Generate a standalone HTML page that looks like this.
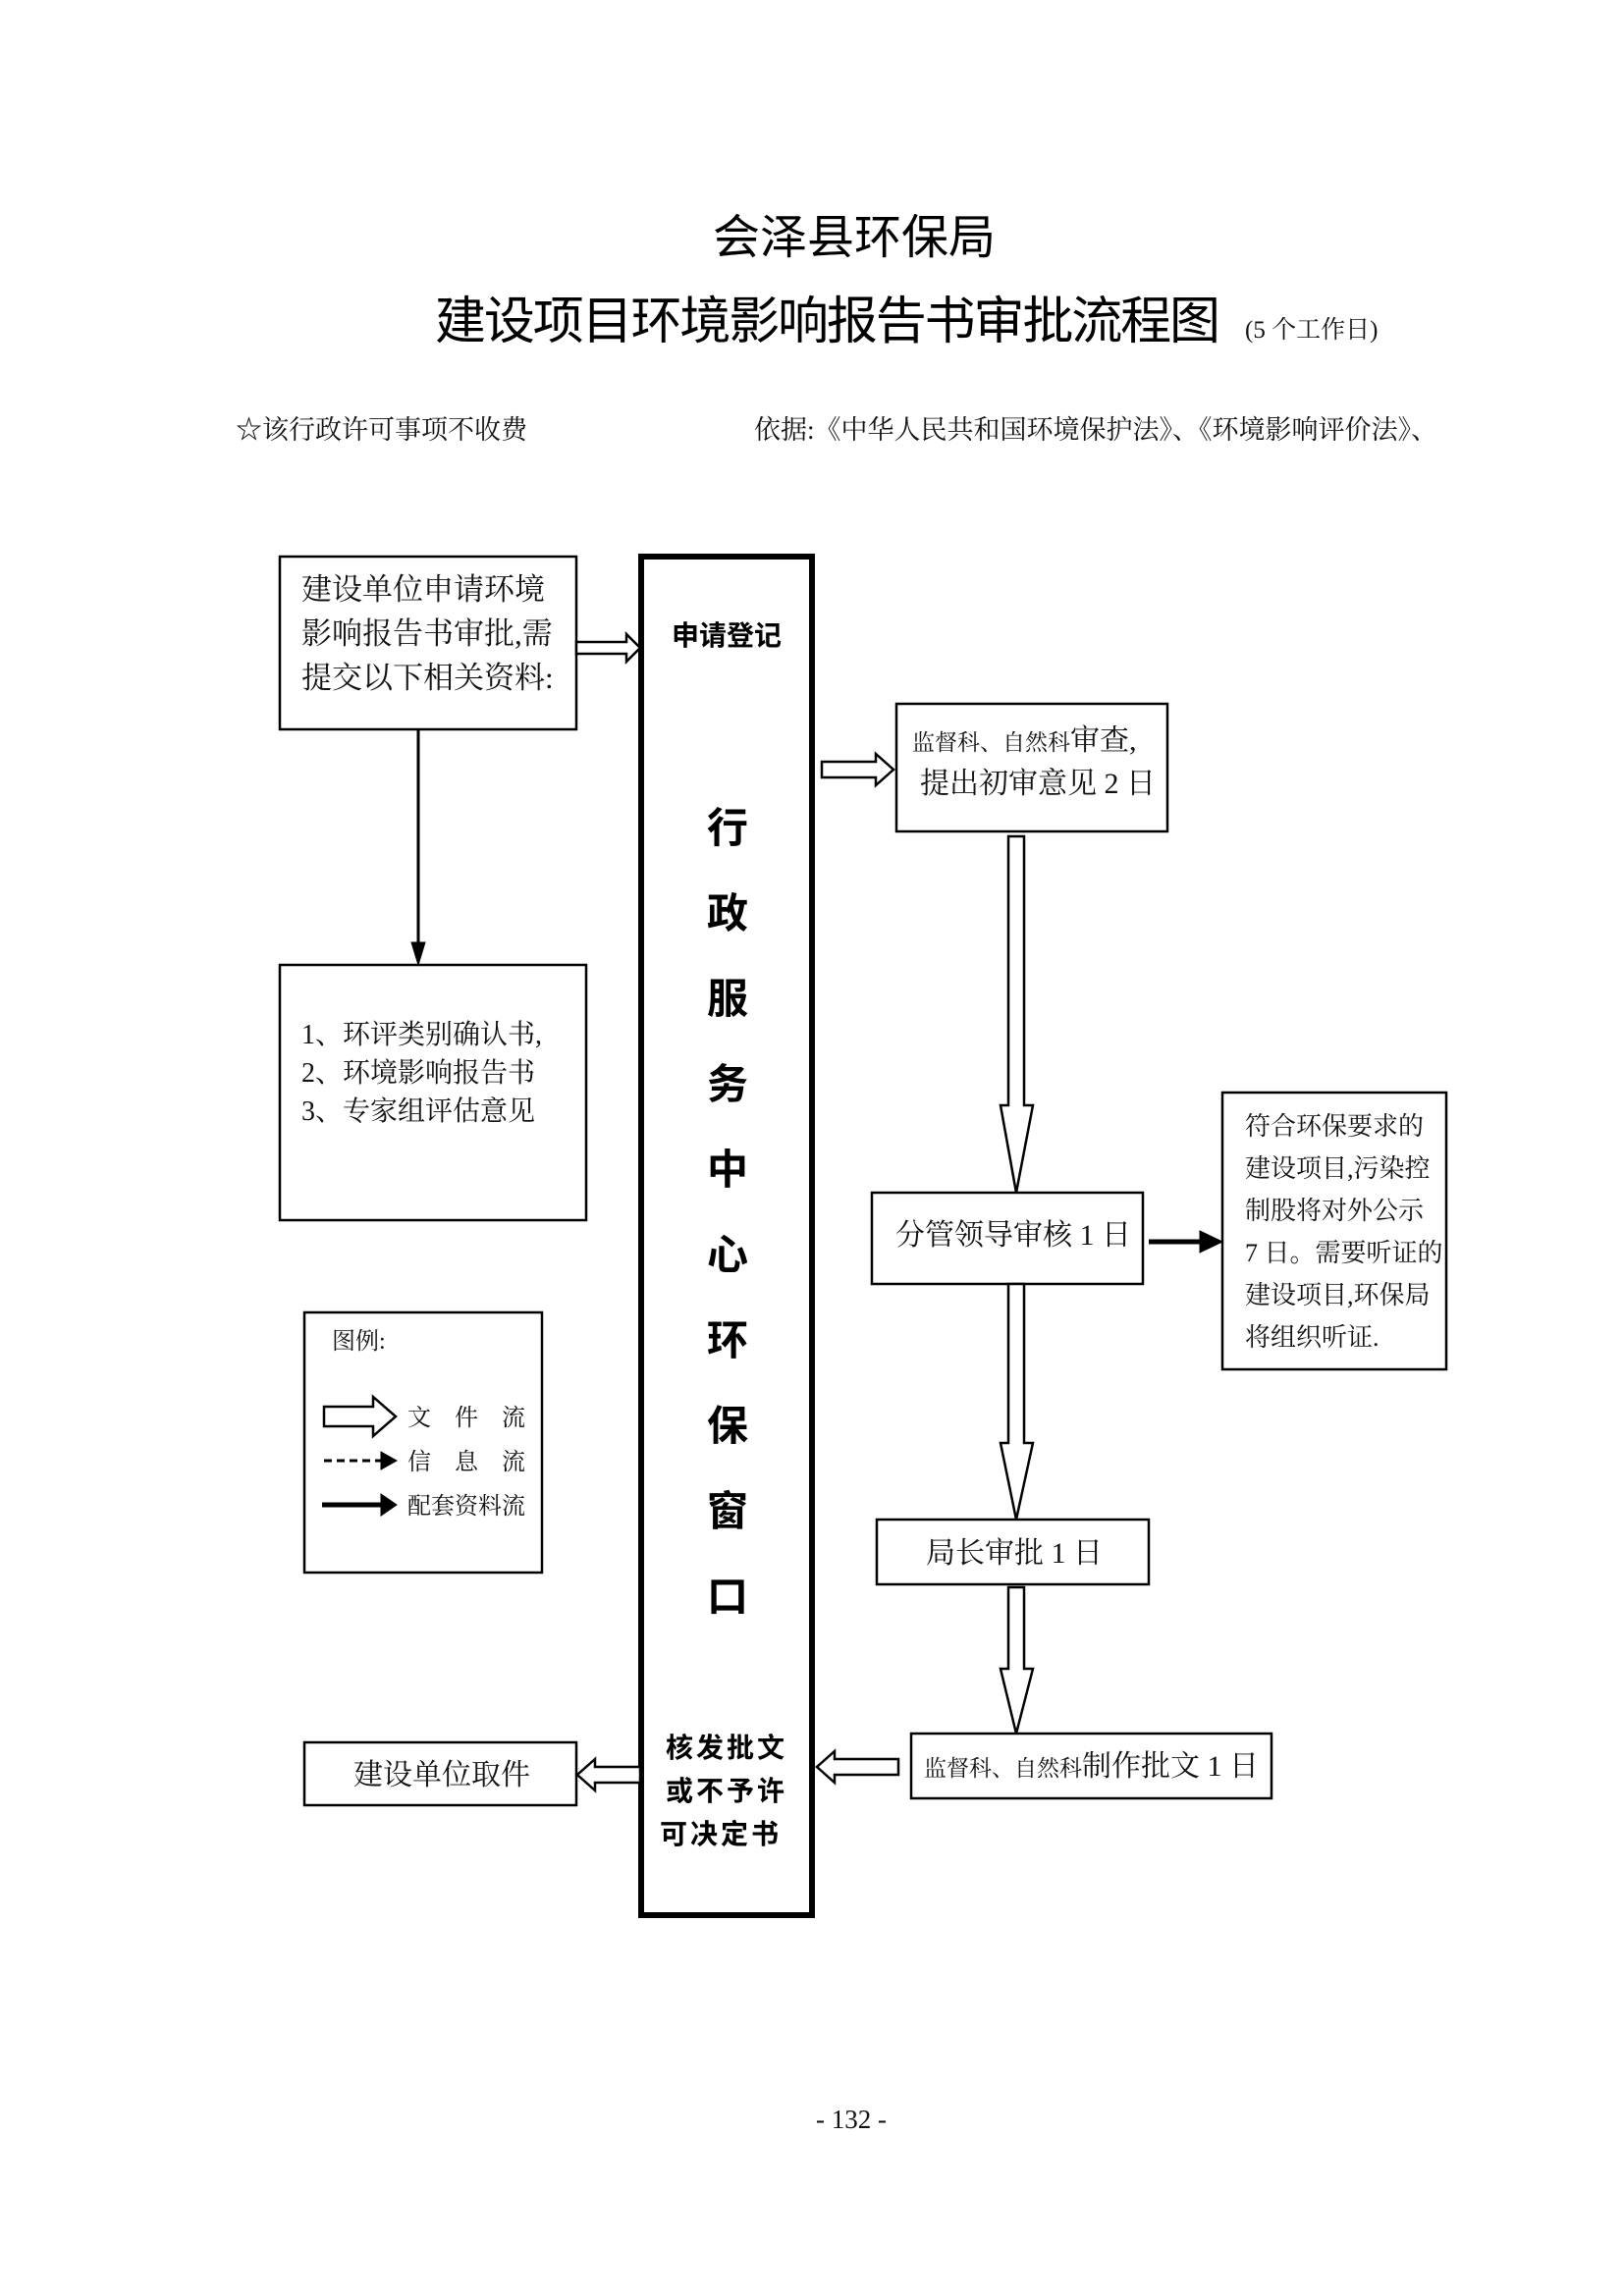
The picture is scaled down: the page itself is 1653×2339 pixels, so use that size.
<!DOCTYPE html>
<html><head><meta charset="utf-8"><style>
html,body{margin:0;padding:0;background:#fff}
svg{display:block}
.s{font-family:"Liberation Serif","Noto Serif CJK SC",serif;fill:#111}
.h{font-family:"Liberation Sans","Noto Sans CJK SC",sans-serif;fill:#000}
.b{font-weight:bold}
</style></head><body>
<svg width="1653" height="2339" viewBox="0 0 1653 2339" xmlns="http://www.w3.org/2000/svg">
<text class="h" x="870" y="258" font-size="48" text-anchor="middle">会泽县环保局</text>
<text class="h" x="443" y="345" font-size="52" textLength="800" lengthAdjust="spacing">建设项目环境影响报告书审批流程图</text>
<text class="s" x="1268" y="344" font-size="25">(5 个工作日)</text>
<text class="s" x="240" y="447" font-size="27">☆该行政许可事项不收费</text>
<text class="s" x="768" y="447" font-size="27">依据:《中华人民共和国环境保护法》、《环境影响评价法》、</text>

<g fill="#fff" stroke="#000" stroke-width="2.5">
<rect x="285" y="567" width="302" height="176"/>
<rect x="285" y="983" width="312" height="260"/>
<rect x="913" y="717" width="276" height="130"/>
<rect x="888" y="1215" width="276" height="93"/>
<rect x="1245" y="1113" width="228" height="282"/>
<rect x="893" y="1548" width="277" height="66"/>
<rect x="928" y="1766" width="367" height="66"/>
<rect x="310" y="1775" width="277" height="64"/>
<rect x="310" y="1337" width="242" height="265"/>
<rect x="653" y="567" width="174" height="1384" stroke-width="6"/>
<polygon points="587,654 638,654 638,646 652,660 638,674 638,666 587,666"/>
<polygon points="837,776 892,776 892,768 910,784 892,800 892,792 837,792"/>
<polygon points="1027,852 1043,852 1043,1126 1052,1126 1035,1215 1019,1126 1027,1126"/>
<polygon points="1027,1308 1043,1308 1043,1470 1052,1470 1035,1548 1019,1470 1027,1470"/>
<polygon points="1027,1617 1043,1617 1043,1700 1052,1700 1035,1766 1019,1700 1027,1700"/>
<polygon points="915,1792 850,1792 850,1784 832,1800 850,1816 850,1808 915,1808"/>
<polygon points="652,1800 606,1800 606,1792 588,1808 606,1824 606,1816 652,1816"/>
<polygon points="330,1433 380,1433 380,1423 403,1443 380,1463 380,1453 330,1453"/>
</g>
<g stroke="#000" fill="#000">
<line x1="426" y1="743" x2="426" y2="962" stroke-width="3"/>
<polygon points="419,960 433,960 426,983"/>
<line x1="1170" y1="1265" x2="1225" y2="1265" stroke-width="5"/>
<polygon points="1222,1254 1245,1265 1222,1276"/>
<line x1="330" y1="1488" x2="390" y2="1488" stroke-width="3" stroke-dasharray="8,5"/>
<polygon points="388,1479 404,1488 388,1497"/>
<line x1="328" y1="1533" x2="390" y2="1533" stroke-width="5"/>
<polygon points="388,1522 404,1533 388,1544"/>
</g>

<g class="s" font-size="31">
<text x="307" y="611">建设单位申请环境</text>
<text x="307" y="656">影响报告书审批,需</text>
<text x="307" y="701">提交以下相关资料:</text>
</g>
<g class="s" font-size="28">
<text x="307" y="1063">1、环评类别确认书,</text>
<text x="307" y="1102">2、环境影响报告书</text>
<text x="307" y="1141">3、专家组评估意见</text>
</g>
<text class="s" x="929" y="764" font-size="23">监督科、自然科<tspan font-size="30">审查,</tspan></text>
<text class="s" x="937" y="808" font-size="30">提出初审意见 2 日</text>
<text class="s" x="912" y="1268" font-size="30">分管领导审核 1 日</text>
<text class="s" x="943" y="1592" font-size="30">局长审批 1 日</text>
<text class="s" x="941" y="1809" font-size="23">监督科、自然科<tspan font-size="30">制作批文 1 日</tspan></text>
<text class="s" x="360" y="1818" font-size="30">建设单位取件</text>
<g class="s" font-size="26">
<text x="1268" y="1156">符合环保要求的</text>
<text x="1268" y="1199">建设项目,污染控</text>
<text x="1268" y="1242">制股将对外公示</text>
<text x="1268" y="1285">7 日。需要听证的</text>
<text x="1268" y="1328">建设项目,环保局</text>
<text x="1268" y="1371">将组织听证.</text>
</g>
<g class="s" font-size="24">
<text x="338" y="1374">图例:</text>
<text x="415" y="1452">文　件　流</text>
<text x="415" y="1497">信　息　流</text>
<text x="415" y="1542">配套资料流</text>
</g>
<g class="h b" font-size="28">
<text x="740" y="657" text-anchor="middle">申请登记</text>
<text x="740" y="1790" text-anchor="middle" letter-spacing="3">核发批文</text>
<text x="740" y="1834" text-anchor="middle" letter-spacing="3">或不予许</text>
<text x="734" y="1878" text-anchor="middle" letter-spacing="3">可决定书</text>
</g>
<g class="h b" font-size="42" text-anchor="middle">
<text x="741" y="858">行</text>
<text x="741" y="945">政</text>
<text x="741" y="1032">服</text>
<text x="741" y="1119">务</text>
<text x="741" y="1206">中</text>
<text x="741" y="1293">心</text>
<text x="741" y="1380">环</text>
<text x="741" y="1467">保</text>
<text x="741" y="1554">窗</text>
<text x="741" y="1641">口</text>
</g>
<text class="s" x="867" y="2168" font-size="27" text-anchor="middle">- 132 -</text>
</svg>
</body></html>
